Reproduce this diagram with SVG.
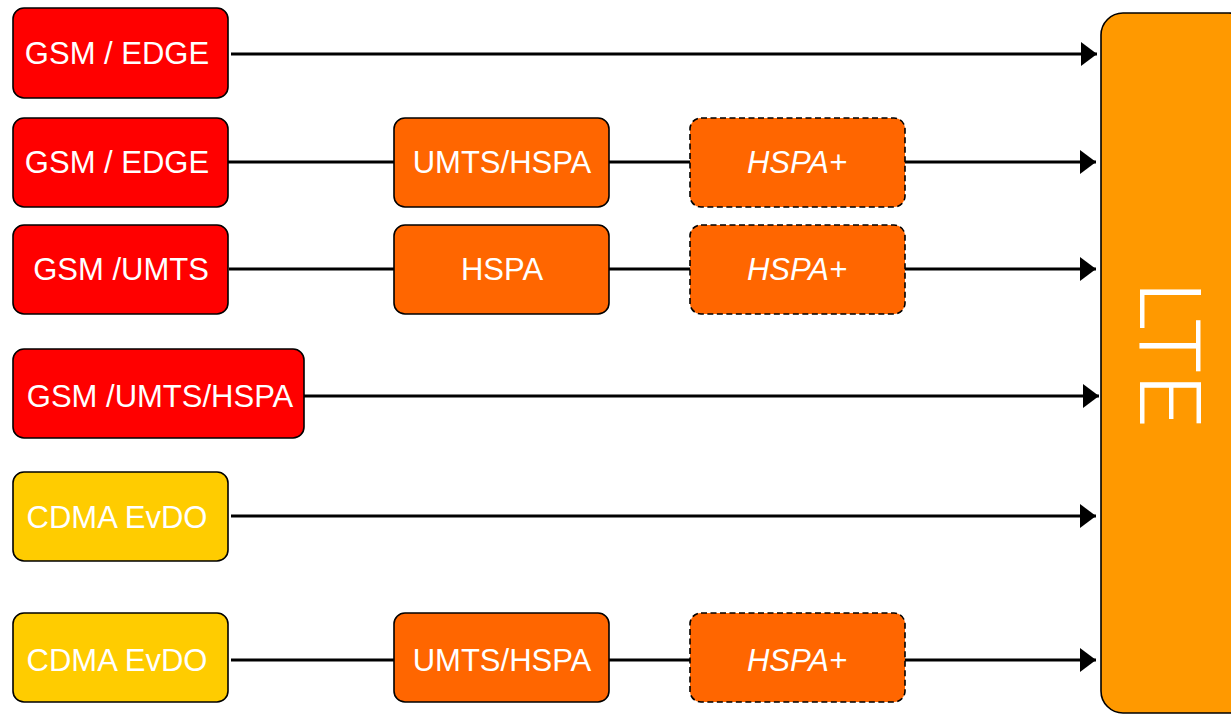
<svg xmlns="http://www.w3.org/2000/svg" width="1231" height="715" viewBox="0 0 1231 715">
<defs>
<style>
.n{stroke:#000;stroke-width:1.6}
.red{fill:#FF0000}
.org{fill:#FF6600}
.yel{fill:#FFCC00}
.dash{stroke-dasharray:6 3.5}
.t{font-family:"Liberation Sans",Arial,sans-serif;font-size:31px;fill:#fff;text-anchor:middle}
.i{font-style:italic}
.c{stroke:#000;stroke-width:3;fill:none}
</style>
<marker id="ah" markerUnits="userSpaceOnUse" markerWidth="16" markerHeight="24" refX="16" refY="12" orient="auto">
<path d="M0,0 L16,12 L0,24 Z" fill="#000"/>
</marker>
</defs>
<rect width="1231" height="715" fill="#fff"/>
<g id="connectors">
<line class="c" x1="231" y1="54" x2="1097" y2="54" marker-end="url(#ah)"/>
<line class="c" x1="228" y1="162" x2="394" y2="162"/>
<line class="c" x1="609" y1="162" x2="690" y2="162"/>
<line class="c" x1="905" y1="162" x2="1096" y2="162" marker-end="url(#ah)"/>
<line class="c" x1="229" y1="269" x2="394" y2="269"/>
<line class="c" x1="609" y1="269" x2="690" y2="269"/>
<line class="c" x1="905" y1="269" x2="1096" y2="269" marker-end="url(#ah)"/>
<line class="c" x1="304" y1="396" x2="1099" y2="396" marker-end="url(#ah)"/>
<line class="c" x1="231" y1="516" x2="1096" y2="516" marker-end="url(#ah)"/>
<line class="c" x1="231" y1="660" x2="394" y2="660"/>
<line class="c" x1="609" y1="660" x2="690" y2="660"/>
<line class="c" x1="905" y1="660" x2="1096" y2="660" marker-end="url(#ah)"/>
</g>
<g id="n1"><rect class="n red" x="13" y="8" width="215" height="90" rx="11"/><text class="t" x="117" y="64">GSM / EDGE</text></g>
<g id="n2"><rect class="n red" x="13" y="118" width="215" height="89" rx="11"/><text class="t" x="117" y="173">GSM / EDGE</text></g>
<g id="n3"><rect class="n red" x="13" y="225" width="215" height="89" rx="11"/><text class="t" x="121" y="280">GSM /UMTS</text></g>
<g id="n4"><rect class="n red" x="13" y="349" width="291" height="89" rx="11"/><text class="t" x="160" y="407">GSM /UMTS/HSPA</text></g>
<g id="n5"><rect class="n yel" x="13" y="472" width="215" height="89" rx="11"/><text class="t" x="117" y="528">CDMA EvDO</text></g>
<g id="n6"><rect class="n yel" x="13" y="613" width="215" height="89" rx="11"/><text class="t" x="117" y="671">CDMA EvDO</text></g>
<g id="m2"><rect class="n org" x="394" y="118" width="215" height="89" rx="11"/><text class="t" x="502" y="173">UMTS/HSPA</text></g>
<g id="m3"><rect class="n org" x="394" y="225" width="215" height="89" rx="11"/><text class="t" x="502" y="280">HSPA</text></g>
<g id="m6"><rect class="n org" x="394" y="613" width="215" height="89" rx="11"/><text class="t" x="502" y="671">UMTS/HSPA</text></g>
<g id="h2"><rect class="n org dash" x="690" y="118" width="215" height="89" rx="11"/><text class="t i" x="797" y="173">HSPA+</text></g>
<g id="h3"><rect class="n org dash" x="690" y="225" width="215" height="89" rx="11"/><text class="t i" x="797" y="280">HSPA+</text></g>
<g id="h6"><rect class="n org dash" x="690" y="613" width="215" height="89" rx="11"/><text class="t i" x="797" y="671">HSPA+</text></g>
<g id="lte"><rect x="1101" y="13" width="150" height="700" rx="22" fill="#FF9900" stroke="#000" stroke-width="1.6"/>
<text transform="translate(1140,354) rotate(90)" font-family="Roboto,'Liberation Sans',sans-serif" font-weight="300" font-size="86" fill="#fff" text-anchor="middle" textLength="146" lengthAdjust="spacingAndGlyphs">LTE</text></g>
</svg>
